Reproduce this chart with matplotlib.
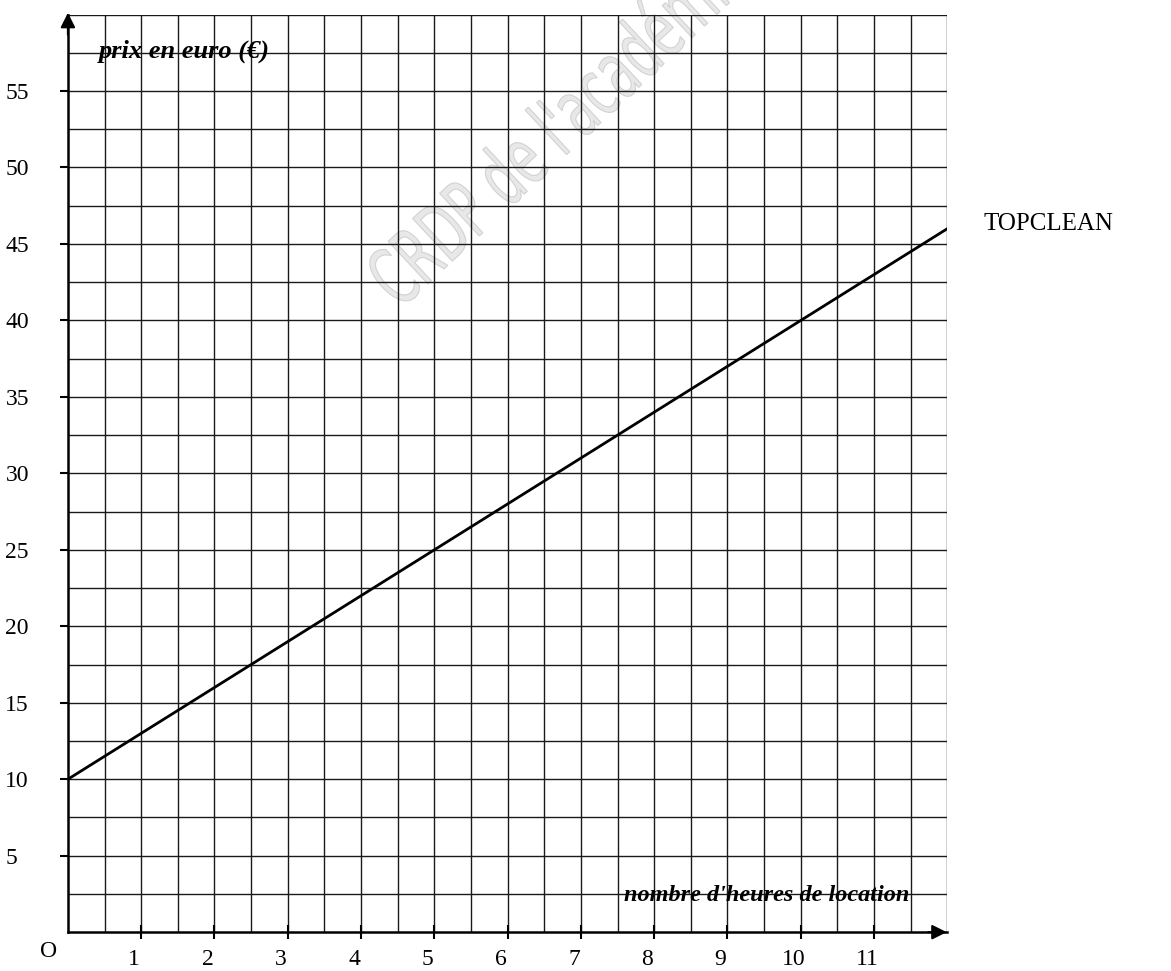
import matplotlib.pyplot as plt
import matplotlib.transforms as mtransforms
from matplotlib.textpath import TextPath
from matplotlib.patches import PathPatch
from matplotlib.font_manager import FontProperties
import numpy as np

# data
heures = [0, 12]
prix_topclean = [10, 46]
x_ticks = [1, 2, 3, 4, 5, 6, 7, 8, 9, 10, 11]
y_ticks = [5, 10, 15, 20, 25, 30, 35, 40, 45, 50, 55]

plt.rcParams['font.family'] = ['Liberation Serif', 'DejaVu Serif']

fig = plt.figure(figsize=(11.71, 9.71), dpi=100)
ax = fig.add_axes([0.058, 0.040, 0.751, 0.945])
ax.set_facecolor('none')

ax.set_xlim(0, 12)
ax.set_ylim(0, 60)

# grid: half units on x, 2.5 on y
for gx in np.arange(0.5, 12.01, 0.5):
    ax.axvline(gx, color='#1a1a1a', lw=1.0, zorder=1)
for gy in np.arange(2.5, 60.01, 2.5):
    ax.axhline(gy, color='#1a1a1a', lw=1.0, zorder=1)

for s in ['top', 'right']:
    ax.spines[s].set_visible(False)
ax.spines['left'].set_linewidth(1.8)
ax.spines['bottom'].set_linewidth(1.8)

# axis arrows
ax.annotate('', xy=(12.03, 0), xytext=(11.7, 0),
            arrowprops=dict(arrowstyle='-|>', color='black', lw=1.5, mutation_scale=22),
            annotation_clip=False)
ax.annotate('', xy=(0, 60.3), xytext=(0, 58.5),
            arrowprops=dict(arrowstyle='-|>', color='black', lw=1.5, mutation_scale=22),
            annotation_clip=False)

# TOPCLEAN line
ax.plot(heures, prix_topclean, color='black', lw=2.0, zorder=3)
ax.text(12.5, prix_topclean[-1] + 0.3, 'TOPCLEAN', fontsize=18, va='center', ha='left')

ax.set_xticks(x_ticks)
ax.set_xticklabels([str(v) for v in x_ticks], fontsize=17)
ax.set_yticks(y_ticks)
ax.set_yticklabels([str(v) for v in y_ticks], fontsize=17)
ax.tick_params(axis='x', direction='inout', length=10, width=1.5, pad=7)
ax.tick_params(axis='y', direction='out', length=6, width=1.5, pad=39)
for lab in ax.get_yticklabels():
    lab.set_horizontalalignment('left')
offset = mtransforms.ScaledTranslation(-7 / 100, 0, fig.dpi_scale_trans)
for lab in ax.get_xticklabels():
    lab.set_transform(lab.get_transform() + offset)

ax.text(-0.15, -0.6, 'O', fontsize=17, ha='right', va='top')

ax.text(0.42, 57.6, 'prix en euro (€)', fontsize=19, style='italic',
        weight='bold', va='center', ha='left', zorder=4)
ax.text(11.48, 2.4, "nombre d'heures de location", fontsize=17.5, style='italic',
        weight='bold', va='center', ha='right', zorder=4)

# faint watermark, condensed letters, cut by the top edge like the scan
tp = TextPath((0, 0), "CRDP de l'académie", size=80,
              prop=FontProperties(family='DejaVu Sans'))
wm = mtransforms.Affine2D().scale(0.6, 1).rotate_deg(43).translate(400, 971 - 310)
fig.add_artist(PathPatch(wm.transform_path(tp), facecolor='#e8e8e8',
                         edgecolor='#d2d2d2', lw=0.8,
                         transform=mtransforms.IdentityTransform(), zorder=-1))

fig.savefig('out.png', dpi=100)
